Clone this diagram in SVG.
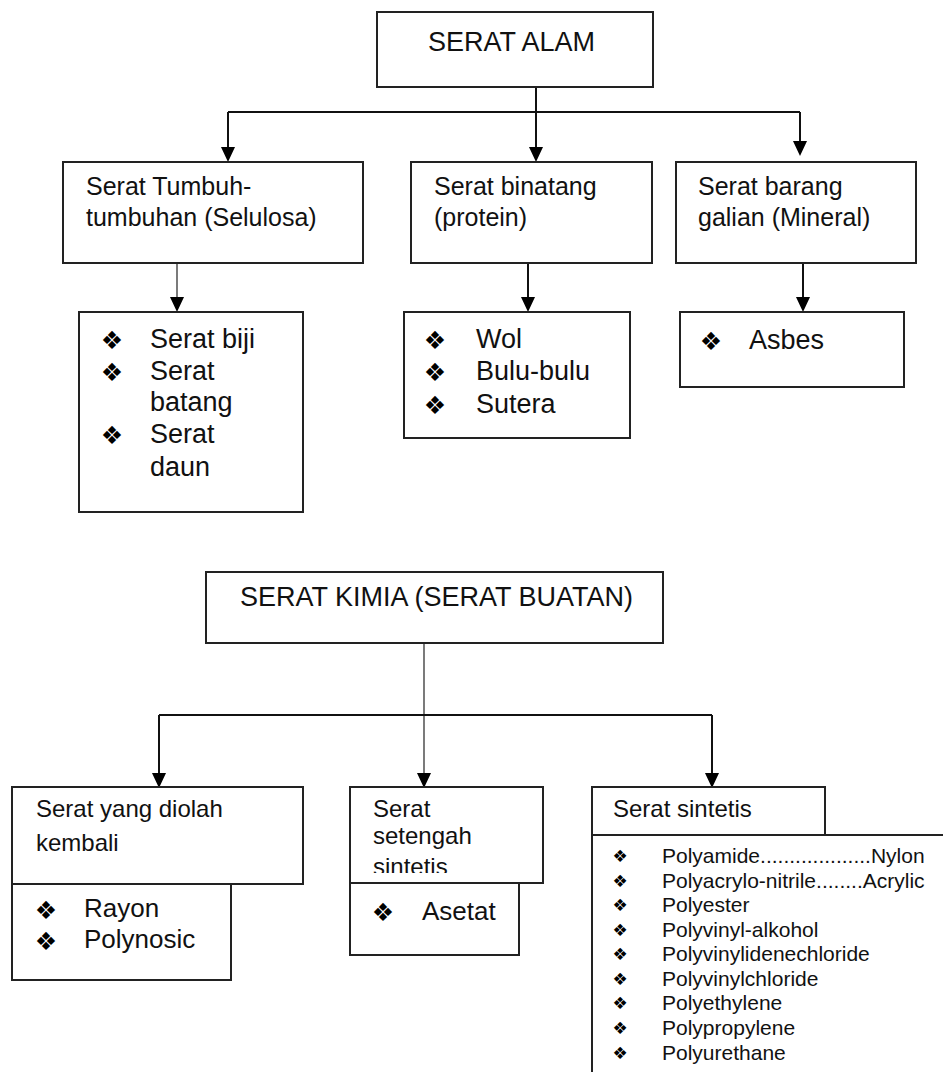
<svg xmlns="http://www.w3.org/2000/svg" width="943" height="1072" viewBox="0 0 943 1072">
<style>
.box{fill:#fff;stroke:#222;stroke-width:2}
.ln{fill:none;stroke:#111;stroke-width:2}
.thin{fill:none;stroke:#333;stroke-width:1.3}
text{font-family:"Liberation Sans",Arial,sans-serif;fill:#111}
.h{font-size:27px}
.l{font-size:25px}
.m{font-size:24px}
.it{font-size:27px}
.it2{font-size:26px}
.sm{font-size:21px}
.b{font-family:"DejaVu Sans",sans-serif;font-size:25px;text-anchor:middle;dominant-baseline:central;fill:#000}
.bs{font-family:"DejaVu Sans",sans-serif;font-size:17px;text-anchor:middle;dominant-baseline:central;fill:#000}
</style>
<defs>
<marker id="arr" viewBox="0 0 15 14" refX="0" refY="7" markerWidth="15" markerHeight="14" markerUnits="userSpaceOnUse" orient="auto">
<path d="M0,0 L15,7 L0,14 z" fill="#000"/>
</marker>
<clipPath id="clipSet"><rect x="350" y="787" width="193" height="86"/></clipPath>
</defs>
<rect width="943" height="1072" fill="#fff"/>

<g id="connectors">
<path class="ln" d="M536 87 V112 M228 112 H800"/>
<path class="ln" d="M228 112 V147" marker-end="url(#arr)"/>
<path class="ln" d="M536 112 V147" marker-end="url(#arr)"/>
<path class="ln" d="M800 112 V141" marker-end="url(#arr)"/>
<path class="thin" d="M177 263 V297" marker-end="url(#arr)"/>
<path class="ln" d="M528 263 V297" marker-end="url(#arr)"/>
<path class="ln" d="M803 263 V297" marker-end="url(#arr)"/>
<path class="thin" d="M424 643 V773" marker-end="url(#arr)"/>
<path class="ln" d="M159 715 H712"/>
<path class="ln" d="M159 715 V773" marker-end="url(#arr)"/>
<path class="ln" d="M712 715 V773" marker-end="url(#arr)"/>
</g>

<g id="serat-alam">
<rect class="box" x="377" y="12" width="276" height="75"/>
<text class="h" x="428" y="51">SERAT ALAM</text>
</g>

<g id="tumbuhan">
<rect class="box" x="63" y="162" width="300" height="101"/>
<text class="l" x="86" y="195">Serat Tumbuh-</text>
<text class="l" x="86" y="226">tumbuhan (Selulosa)</text>
</g>

<g id="binatang">
<rect class="box" x="411" y="162" width="241" height="101"/>
<text class="l" x="434" y="195">Serat binatang</text>
<text class="l" x="434" y="226">(protein)</text>
</g>

<g id="galian">
<rect class="box" x="676" y="162" width="240" height="101"/>
<text class="l" x="698" y="195">Serat barang</text>
<text class="l" x="698" y="226">galian (Mineral)</text>
</g>

<g id="tumbuhan-list">
<rect class="box" x="79" y="312" width="224" height="200"/>
<text class="b" x="112" y="340">❖</text>
<text class="b" x="112" y="372">❖</text>
<text class="b" x="112" y="435">❖</text>
<text class="it" x="150" y="348">Serat biji</text>
<text class="it" x="150" y="380">Serat</text>
<text class="it" x="150" y="411">batang</text>
<text class="it" x="150" y="443">Serat</text>
<text class="it" x="150" y="476">daun</text>
</g>

<g id="binatang-list">
<rect class="box" x="404" y="312" width="226" height="126"/>
<text class="b" x="435" y="340">❖</text>
<text class="b" x="435" y="372">❖</text>
<text class="b" x="435" y="405">❖</text>
<text class="it" x="476" y="348">Wol</text>
<text class="it" x="476" y="380">Bulu-bulu</text>
<text class="it" x="476" y="413">Sutera</text>
</g>

<g id="galian-list">
<rect class="box" x="680" y="312" width="224" height="75"/>
<text class="b" x="711" y="341">❖</text>
<text class="it" x="749" y="349">Asbes</text>
</g>

<g id="serat-kimia">
<rect class="box" x="206" y="572" width="457" height="71"/>
<text class="h" x="240" y="606">SERAT KIMIA (SERAT BUATAN)</text>
</g>

<g id="diolah">
<rect class="box" x="12" y="884" width="219" height="96"/>
<rect class="box" x="12" y="787" width="291" height="97"/>
<text class="m" x="36" y="817">Serat yang diolah</text>
<text class="m" x="36" y="851">kembali</text>
<text class="b" x="46" y="910">❖</text>
<text class="b" x="46" y="941">❖</text>
<text class="it2" x="84" y="917">Rayon</text>
<text class="it2" x="84" y="948">Polynosic</text>
</g>

<g id="setengah">
<rect class="box" x="350" y="883" width="169" height="72"/>
<rect class="box" x="350" y="787" width="193" height="96"/>
<g clip-path="url(#clipSet)">
<text class="m" x="373" y="817">Serat</text>
<text class="m" x="373" y="844">setengah</text>
<text class="m" x="373" y="875">sintetis</text>
</g>
<text class="b" x="383" y="912">❖</text>
<text class="it2" x="422" y="920">Asetat</text>
</g>

<g id="sintetis">
<path class="box" d="M592 1073 V835 H944"/>
<rect class="box" x="592" y="787" width="233" height="48"/>
<text class="m" x="613" y="817">Serat sintetis</text>
<g class="bullets">
<text class="bs" x="620" y="856">❖</text>
<text class="bs" x="620" y="881">❖</text>
<text class="bs" x="620" y="905">❖</text>
<text class="bs" x="620" y="930">❖</text>
<text class="bs" x="620" y="954">❖</text>
<text class="bs" x="620" y="979">❖</text>
<text class="bs" x="620" y="1003">❖</text>
<text class="bs" x="620" y="1028">❖</text>
<text class="bs" x="620" y="1053">❖</text>
</g>
<text class="sm" x="662" y="863">Polyamide...................Nylon</text>
<text class="sm" x="662" y="888">Polyacrylo-nitrile........Acrylic</text>
<text class="sm" x="662" y="912">Polyester</text>
<text class="sm" x="662" y="937">Polyvinyl-alkohol</text>
<text class="sm" x="662" y="961">Polyvinylidenechloride</text>
<text class="sm" x="662" y="986">Polyvinylchloride</text>
<text class="sm" x="662" y="1010">Polyethylene</text>
<text class="sm" x="662" y="1035">Polypropylene</text>
<text class="sm" x="662" y="1060">Polyurethane</text>
</g>
</svg>
